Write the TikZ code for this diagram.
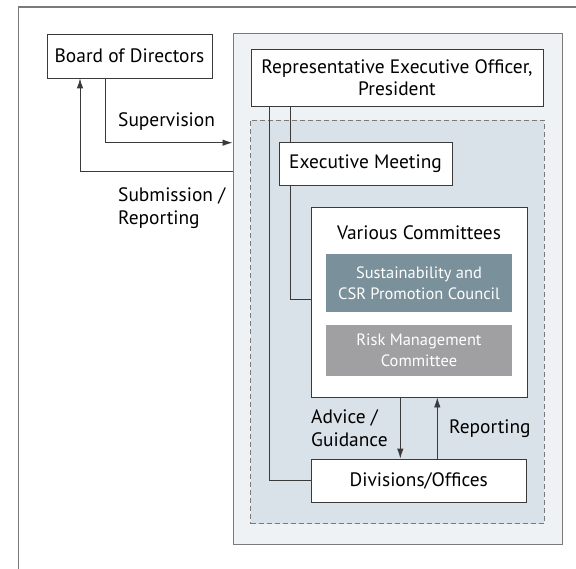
\documentclass[tikz,border=0pt]{standalone}
\usepackage{fontspec}
\setmainfont{PT Sans}
\usetikzlibrary{arrows.meta,calc}
\definecolor{linegray}{HTML}{3A3A3A}
\definecolor{framegray}{HTML}{7A7A7A}
\definecolor{corpfill}{HTML}{EEF2F5}
\definecolor{execfill}{HTML}{DAE2E9}
\definecolor{susfill}{HTML}{7A909A}
\definecolor{riskfill}{HTML}{A0A0A3}
\tikzset{
  txt/.style={font=\fontsize{19.5}{22.5}\selectfont},
  box/.style={txt, draw=linegray, line width=0.9bp, fill=white, inner sep=0pt, align=center},
  band/.style={inner sep=0pt, align=center, text=white,
    font=\fontsize{16.5}{21}\selectfont},
  lbl/.style={txt, inner sep=0pt, align=left, anchor=west},
  conn/.style={draw=linegray, line width=0.9bp},
  arr/.style={conn, -{Latex[length=10bp,width=6.5bp]}},
}
\begin{document}
\begin{tikzpicture}[x=1bp,y=-1bp]
\useasboundingbox (0,0) rectangle (576,569);
% page frame (open at right and bottom)
\draw[framegray, line width=1.3bp] (576,7) -- (18.5,7) -- (18.5,569);

% company block and executive area
\node[draw=framegray, line width=1bp, fill=corpfill, minimum width=329bp, minimum height=510bp, inner sep=0pt] (corp) at (397.5,289) {};
\node[draw=framegray, line width=0.9bp, dashed, dash pattern=on 5bp off 3bp, fill=execfill, minimum width=293.5bp, minimum height=403.5bp, inner sep=0pt] (execarea) at (397.25,321.75) {};

% boxes
\node[box, minimum width=165bp, minimum height=44bp] (board) at (129.5,56) {Board of Directors};
\node[box, minimum width=292bp, minimum height=57bp] (rep) at (397,77.5) {Representative Executive Officer,\\President};
\node[box, minimum width=173bp, minimum height=43bp] (exec) at (365.5,163.5) {Executive Meeting};
\node[box, minimum width=216bp, minimum height=190bp] (vc) at (419,302) {};
\node[txt, inner sep=0pt] (vctitle) at (419,233) {Various Committees};
\node[band, fill=susfill, minimum width=186bp, minimum height=58bp] (sus) at (419,283) {Sustainability and\\CSR Promotion Council};
\node[band, fill=riskfill, minimum width=186bp, minimum height=51bp] (risk) at (419,350.5) {Risk Management\\Committee};
\node[box, minimum width=214.5bp, minimum height=43bp] (div) at (418.75,480.5) {Divisions/Offices};

% reporting lines inside the company
\draw[conn] ([xshift=12bp]exec.north west |- rep.south) -- ([xshift=12bp]exec.north west);
\draw[conn] ([xshift=12bp]exec.south west) |- ([yshift=3bp]vc.west);
\draw[conn] ([xshift=19bp]rep.south west) |- (div.west);
\draw[arr] ([xshift=-18.7bp]vc.south) -- ([xshift=-18.7bp]vc.south |- div.north);
\draw[arr] ([xshift=18.3bp]vc.south |- div.north) -- ([xshift=18.3bp]vc.south);

% board relations
\draw[arr] ([xshift=-23.8bp]board.south) |- ([yshift=146.3bp]corp.west);
\draw[arr] ([yshift=118bp]corp.west) -| ([xshift=-49.5bp]board.south);

% labels
\node[lbl] (lsup) at (118,122) {Supervision};
\node[lbl] (lsub) at (118,208) {Submission /\\Reporting};
\node[lbl] (ladv) at (311,428) {Advice /\\Guidance};
\node[lbl] (lrep) at (449,429) {Reporting};
\end{tikzpicture}
\end{document}
